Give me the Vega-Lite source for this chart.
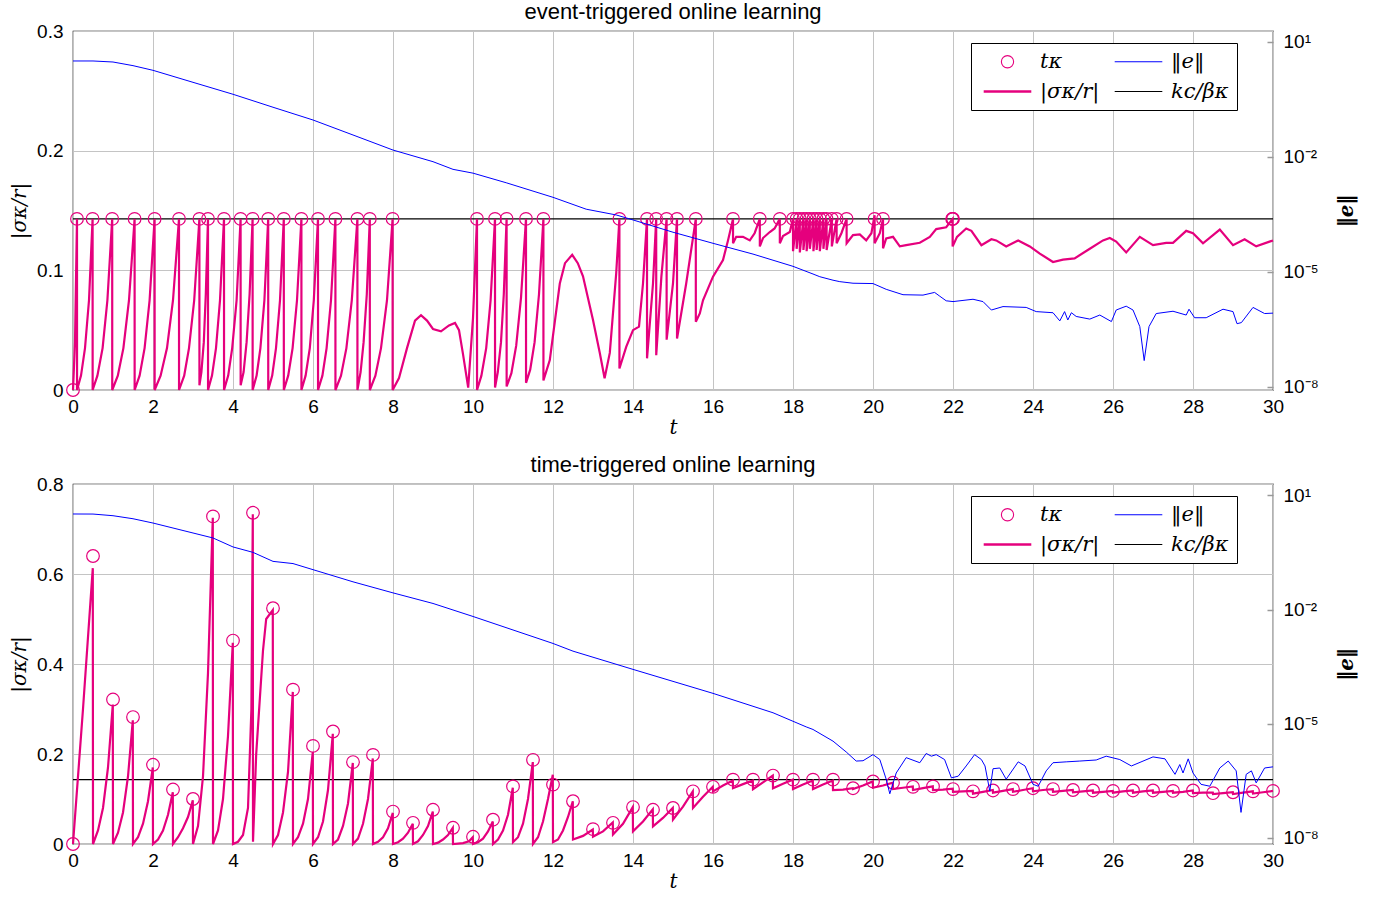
{
  "$schema": "https://vega.github.io/schema/vega-lite/v6.json",
  "padding": {"left": 8, "top": 0, "right": 5, "bottom": 2},
  "background": "white",
  "config": {
    "font": "Liberation Sans",
    "view": {"stroke": "black", "strokeWidth": 1.2},
    "axis": {"labelFont": "Liberation Sans", "labelFontSize": 19, "labelColor": "black", "domain": false, "ticks": false, "gridColor": "#c4c4c4", "gridWidth": 1, "titleFont": "DejaVu Serif", "titleFontStyle": "italic", "titleFontWeight": "normal", "titleFontSize": 20, "titleColor": "black"},
    "title": {"font": "Liberation Sans", "fontSize": 22, "fontWeight": "normal", "color": "black"},
    "legend": {"orient": "none", "legendX": 898, "legendY": 12, "columns": 2, "strokeColor": "black", "strokeWidth": 1, "fillColor": "white", "padding": 8, "labelFont": "DejaVu Serif", "labelFontStyle": "italic", "labelFontSize": 21, "labelColor": "black", "symbolSize": 784, "symbolType": "M-1.7,0H1.7", "symbolOffset": 18, "labelOffset": 22, "columnPadding": 10, "rowPadding": 8, "cornerRadius": 0}
  },
  "datasets": {
    "thr": [{"t": 0, "v": 0.143}, {"t": 30, "v": 0.143}],
    "topC": [{"t":0,"v":0},{"t":0.1,"v":0.143},{"t":0.49,"v":0.143},{"t":0.98,"v":0.143},{"t":1.54,"v":0.143},{"t":2.04,"v":0.143},{"t":2.65,"v":0.143},{"t":3.16,"v":0.143},{"t":3.375,"v":0.143},{"t":3.775,"v":0.143},{"t":4.19,"v":0.143},{"t":4.49,"v":0.143},{"t":4.88,"v":0.143},{"t":5.27,"v":0.143},{"t":5.71,"v":0.143},{"t":6.125,"v":0.143},{"t":6.56,"v":0.143},{"t":7.11,"v":0.143},{"t":7.42,"v":0.143},{"t":7.99,"v":0.143},{"t":10.1,"v":0.143},{"t":10.55,"v":0.143},{"t":10.84,"v":0.143},{"t":11.325,"v":0.143},{"t":11.76,"v":0.143},{"t":13.66,"v":0.143},{"t":14.35,"v":0.143},{"t":14.58,"v":0.143},{"t":14.84,"v":0.143},{"t":15.1,"v":0.143},{"t":15.57,"v":0.143},{"t":16.5,"v":0.143},{"t":17.17,"v":0.143},{"t":17.67,"v":0.143},{"t":18.0,"v":0.143},{"t":18.09,"v":0.143},{"t":18.17,"v":0.143},{"t":18.26,"v":0.143},{"t":18.34,"v":0.143},{"t":18.42,"v":0.143},{"t":18.51,"v":0.143},{"t":18.59,"v":0.143},{"t":18.67,"v":0.143},{"t":18.76,"v":0.143},{"t":18.84,"v":0.143},{"t":18.97,"v":0.143},{"t":19.09,"v":0.143},{"t":19.34,"v":0.143},{"t":20.04,"v":0.143},{"t":20.25,"v":0.143},{"t":21.98,"v":0.143},{"t":21.99,"v":0.143},{"t":22.0,"v":0.143}],
    "topS": [{"t":0,"v":0},{"t":0.05,"v":0.04},{"t":0.1,"v":0.143},{"t":0.101,"v":0},
      {"t":0.2,"v":0.012},{"t":0.3,"v":0.035},{"t":0.4,"v":0.075},{"t":0.49,"v":0.143},{"t":0.491,"v":0},
      {"t":0.61,"v":0.012},{"t":0.74,"v":0.035},{"t":0.86,"v":0.075},{"t":0.98,"v":0.143},{"t":0.981,"v":0},
      {"t":1.12,"v":0.012},{"t":1.26,"v":0.035},{"t":1.4,"v":0.075},{"t":1.54,"v":0.143},{"t":1.541,"v":0},
      {"t":1.665,"v":0.012},{"t":1.79,"v":0.035},{"t":1.915,"v":0.075},{"t":2.04,"v":0.143},{"t":2.041,"v":0},
      {"t":2.19,"v":0.012},{"t":2.35,"v":0.035},{"t":2.5,"v":0.075},{"t":2.65,"v":0.143},{"t":2.651,"v":0},
      {"t":2.78,"v":0.012},{"t":2.9,"v":0.035},{"t":3.03,"v":0.075},{"t":3.16,"v":0.143},{"t":3.161,"v":0.004},
      {"t":3.21,"v":0.015},{"t":3.27,"v":0.04},{"t":3.32,"v":0.08},{"t":3.375,"v":0.143},{"t":3.376,"v":0},
      {"t":3.475,"v":0.012},{"t":3.575,"v":0.035},{"t":3.675,"v":0.075},{"t":3.775,"v":0.143},{"t":3.776,"v":0},
      {"t":3.88,"v":0.012},{"t":3.98,"v":0.035},{"t":4.09,"v":0.075},{"t":4.19,"v":0.143},{"t":4.191,"v":0.004},
      {"t":4.265,"v":0.015},{"t":4.34,"v":0.04},{"t":4.415,"v":0.08},{"t":4.49,"v":0.143},{"t":4.491,"v":0},
      {"t":4.59,"v":0.012},{"t":4.685,"v":0.035},{"t":4.785,"v":0.075},{"t":4.88,"v":0.143},{"t":4.881,"v":0},
      {"t":4.98,"v":0.012},{"t":5.075,"v":0.035},{"t":5.175,"v":0.075},{"t":5.27,"v":0.143},{"t":5.271,"v":0},
      {"t":5.38,"v":0.012},{"t":5.49,"v":0.035},{"t":5.6,"v":0.075},{"t":5.71,"v":0.143},{"t":5.711,"v":0},
      {"t":5.815,"v":0.012},{"t":5.92,"v":0.035},{"t":6.02,"v":0.075},{"t":6.125,"v":0.143},{"t":6.126,"v":0},
      {"t":6.235,"v":0.012},{"t":6.34,"v":0.035},{"t":6.45,"v":0.075},{"t":6.56,"v":0.143},{"t":6.561,"v":0},
      {"t":6.7,"v":0.012},{"t":6.835,"v":0.035},{"t":6.97,"v":0.075},{"t":7.11,"v":0.143},{"t":7.111,"v":0},
      {"t":7.19,"v":0.015},{"t":7.265,"v":0.04},{"t":7.345,"v":0.08},{"t":7.42,"v":0.143},{"t":7.421,"v":0},
      {"t":7.56,"v":0.012},{"t":7.7,"v":0.035},{"t":7.85,"v":0.075},{"t":7.99,"v":0.143},{"t":7.991,"v":0},
      {"t":8.15,"v":0.01},{"t":8.35,"v":0.035},{"t":8.55,"v":0.058},{"t":8.7,"v":0.0625},{"t":8.85,"v":0.058},{"t":9.0,"v":0.051},{"t":9.2,"v":0.049},{"t":9.4,"v":0.054},{"t":9.55,"v":0.056},{"t":9.65,"v":0.05},{"t":9.75,"v":0.03},{"t":9.88,"v":0.002},{"t":10.0,"v":0.06},{"t":10.1,"v":0.143},{"t":10.101,"v":0},
      {"t":10.21,"v":0.012},{"t":10.33,"v":0.035},{"t":10.44,"v":0.075},{"t":10.55,"v":0.143},{"t":10.551,"v":0.002},
      {"t":10.62,"v":0.015},{"t":10.7,"v":0.04},{"t":10.77,"v":0.08},{"t":10.84,"v":0.143},{"t":10.841,"v":0.003},
      {"t":10.96,"v":0.014},{"t":11.08,"v":0.037},{"t":11.2,"v":0.077},{"t":11.325,"v":0.143},{"t":11.326,"v":0.006},
      {"t":11.43,"v":0.017},{"t":11.54,"v":0.04},{"t":11.65,"v":0.08},{"t":11.76,"v":0.143},{"t":11.761,"v":0.008},
      {"t":11.92,"v":0.025},{"t":12.17,"v":0.089},{"t":12.3,"v":0.106},{"t":12.48,"v":0.113},{"t":12.62,"v":0.106},{"t":12.75,"v":0.095},{"t":13.0,"v":0.0585},{"t":13.17,"v":0.031},{"t":13.29,"v":0.0098},{"t":13.42,"v":0.031},{"t":13.58,"v":0.0975},{"t":13.66,"v":0.143},{"t":13.661,"v":0.018},
      {"t":13.83,"v":0.036},{"t":14.0,"v":0.05},{"t":14.15,"v":0.053},{"t":14.25,"v":0.089},{"t":14.35,"v":0.143},{"t":14.351,"v":0.0265},
      {"t":14.5,"v":0.089},{"t":14.58,"v":0.143},{"t":14.581,"v":0.029},
      {"t":14.71,"v":0.095},{"t":14.84,"v":0.143},{"t":14.841,"v":0.042},
      {"t":15.0,"v":0.089},{"t":15.1,"v":0.143},{"t":15.101,"v":0.043},
      {"t":15.33,"v":0.089},{"t":15.57,"v":0.143},{"t":15.571,"v":0.057},
      {"t":15.67,"v":0.064},{"t":15.75,"v":0.075},{"t":16.0,"v":0.0947},{"t":16.25,"v":0.1086},{"t":16.375,"v":0.125},{"t":16.5,"v":0.143},{"t":16.501,"v":0.1226},
      {"t":16.58,"v":0.128},{"t":16.75,"v":0.128},{"t":16.92,"v":0.125},{"t":17.04,"v":0.131},{"t":17.17,"v":0.143},{"t":17.171,"v":0.12},
      {"t":17.25,"v":0.127},{"t":17.42,"v":0.132},{"t":17.54,"v":0.135},{"t":17.67,"v":0.143},{"t":17.671,"v":0.1226},
      {"t":17.75,"v":0.1287},{"t":17.92,"v":0.132},{"t":18.0,"v":0.143},{"t":18.001,"v":0.116},
      {"t":18.09,"v":0.143},{"t":18.091,"v":0.118},{"t":18.17,"v":0.143},{"t":18.171,"v":0.115},{"t":18.26,"v":0.143},{"t":18.261,"v":0.117},{"t":18.34,"v":0.143},{"t":18.341,"v":0.116},{"t":18.42,"v":0.143},{"t":18.421,"v":0.118},{"t":18.51,"v":0.143},{"t":18.511,"v":0.116},{"t":18.59,"v":0.143},{"t":18.591,"v":0.117},{"t":18.67,"v":0.143},{"t":18.671,"v":0.116},{"t":18.76,"v":0.143},{"t":18.761,"v":0.118},{"t":18.84,"v":0.143},{"t":18.841,"v":0.117},{"t":18.97,"v":0.143},{"t":18.971,"v":0.12},{"t":19.09,"v":0.143},{"t":19.091,"v":0.1226},
      {"t":19.21,"v":0.131},{"t":19.34,"v":0.143},{"t":19.341,"v":0.1226},{"t":19.5,"v":0.1295},{"t":19.67,"v":0.13},{"t":19.83,"v":0.125},{"t":19.96,"v":0.131},{"t":20.04,"v":0.146},{"t":20.041,"v":0.1226},{"t":20.17,"v":0.131},{"t":20.25,"v":0.143},{"t":20.251,"v":0.1184},{"t":20.33,"v":0.1267},{"t":20.5,"v":0.128},{"t":20.67,"v":0.12},{"t":20.83,"v":0.121},{"t":21.17,"v":0.123},{"t":21.42,"v":0.128},{"t":21.58,"v":0.1345},{"t":21.83,"v":0.136},{"t":21.99,"v":0.143},{"t":21.991,"v":0.12},{"t":22.1,"v":0.128},{"t":22.33,"v":0.135},{"t":22.46,"v":0.133},{"t":22.71,"v":0.121},{"t":22.96,"v":0.126},{"t":23.08,"v":0.125},{"t":23.33,"v":0.12},{"t":23.63,"v":0.125},{"t":23.92,"v":0.12},{"t":24.17,"v":0.114},{"t":24.5,"v":0.107},{"t":24.75,"v":0.109},{"t":25.04,"v":0.11},{"t":25.42,"v":0.118},{"t":25.75,"v":0.125},{"t":25.92,"v":0.127},{"t":26.08,"v":0.124},{"t":26.33,"v":0.115},{"t":26.67,"v":0.128},{"t":27.0,"v":0.121},{"t":27.33,"v":0.123},{"t":27.5,"v":0.123},{"t":27.83,"v":0.133},{"t":28.0,"v":0.131},{"t":28.25,"v":0.1226},{"t":28.67,"v":0.134},{"t":29.0,"v":0.121},{"t":29.29,"v":0.126},{"t":29.58,"v":0.12},{"t":30,"v":0.125}],
    "topE": [{"t":0,"e":3.14},{"t":0.5,"e":3.14},{"t":1,"e":2.95},{"t":1.5,"e":2.37},{"t":2,"e":1.79},{"t":3,"e":0.871},{"t":4,"e":0.425},{"t":5,"e":0.195},{"t":6,"e":0.0906},{"t":7,"e":0.0368},{"t":8,"e":0.0149},{"t":9,"e":0.00741},{"t":9.5,"e":0.00468},{"t":10,"e":0.00372},{"t":10.83,"e":0.00209},{"t":12,"e":8.71e-4},{"t":12.83,"e":4.27e-4},{"t":13.58,"e":3.02e-4},{"t":14,"e":2.24e-4},{"t":15,"e":1.07e-4},{"t":16,"e":5.5e-5},{"t":17,"e":2.88e-5},{"t":18,"e":1.38e-5},{"t":18.5,"e":8.7e-6},{"t":18.67,"e":7.4e-6},{"t":19,"e":6.0e-6},{"t":19.17,"e":5.5e-6},{"t":19.5,"e":5.0e-6},{"t":20,"e":4.9e-6},{"t":20.33,"e":3.47e-6},{"t":20.75,"e":2.51e-6},{"t":21.25,"e":2.45e-6},{"t":21.54,"e":2.88e-6},{"t":21.67,"e":2.29e-6},{"t":21.83,"e":1.74e-6},{"t":22,"e":1.66e-6},{"t":22.5,"e":1.91e-6},{"t":22.75,"e":1.66e-6},{"t":22.96,"e":1.0e-6},{"t":23.25,"e":1.23e-6},{"t":23.83,"e":1.17e-6},{"t":24.08,"e":9.1e-7},{"t":24.5,"e":8.5e-7},{"t":24.67,"e":5.2e-7},{"t":24.79,"e":9.1e-7},{"t":24.87,"e":5.5e-7},{"t":24.96,"e":8.5e-7},{"t":25.08,"e":6.8e-7},{"t":25.42,"e":5.8e-7},{"t":25.67,"e":7.4e-7},{"t":25.96,"e":5.0e-7},{"t":26.08,"e":1.0e-6},{"t":26.33,"e":1.26e-6},{"t":26.5,"e":1.0e-6},{"t":26.67,"e":3.7e-7},{"t":26.78,"e":4.8e-8},{"t":26.9,"e":3.7e-7},{"t":27.08,"e":8.1e-7},{"t":27.5,"e":9.3e-7},{"t":27.83,"e":7.4e-7},{"t":27.9,"e":1.05e-6},{"t":28.04,"e":6.3e-7},{"t":28.33,"e":6.3e-7},{"t":28.75,"e":1.05e-6},{"t":29.0,"e":9.1e-7},{"t":29.1,"e":4.4e-7},{"t":29.21,"e":4.7e-7},{"t":29.5,"e":1.17e-6},{"t":29.79,"e":8.1e-7},{"t":30,"e":8.3e-7}],
    "botC": [{"t":0,"v":0},{"t":0.5,"v":0.64},{"t":1,"v":0.321},{"t":1.5,"v":0.282},{"t":2,"v":0.176},{"t":2.5,"v":0.121},{"t":3,"v":0.1},{"t":3.5,"v":0.728},{"t":4,"v":0.452},{"t":4.5,"v":0.736},{"t":5,"v":0.524},{"t":5.5,"v":0.343},{"t":6,"v":0.218},{"t":6.5,"v":0.25},{"t":7,"v":0.182},{"t":7.5,"v":0.198},{"t":8,"v":0.072},{"t":8.5,"v":0.047},{"t":9,"v":0.076},{"t":9.5,"v":0.036},{"t":10,"v":0.016},{"t":10.5,"v":0.054},{"t":11,"v":0.128},{"t":11.5,"v":0.187},{"t":12,"v":0.132},{"t":12.5,"v":0.095},{"t":13,"v":0.033},{"t":13.5,"v":0.047},{"t":14,"v":0.082},{"t":14.5,"v":0.076},{"t":15,"v":0.08},{"t":15.5,"v":0.117},{"t":16,"v":0.127},{"t":16.5,"v":0.143},{"t":17,"v":0.143},{"t":17.5,"v":0.152},{"t":18,"v":0.143},{"t":18.5,"v":0.143},{"t":19,"v":0.143},{"t":19.5,"v":0.124},{"t":20,"v":0.139},{"t":20.5,"v":0.136},{"t":21,"v":0.127},{"t":21.5,"v":0.128},{"t":22,"v":0.122},{"t":22.5,"v":0.117},{"t":23,"v":0.119},{"t":23.5,"v":0.122},{"t":24,"v":0.124},{"t":24.5,"v":0.122},{"t":25,"v":0.12},{"t":25.5,"v":0.119},{"t":26,"v":0.118},{"t":26.5,"v":0.119},{"t":27,"v":0.119},{"t":27.5,"v":0.118},{"t":28,"v":0.119},{"t":28.5,"v":0.113},{"t":29,"v":0.115},{"t":29.5,"v":0.117},{"t":30,"v":0.118}],
    "botS": [{"t":0,"v":0},{"t":0.25,"v":0.3},{"t":0.495,"v":0.613},{"t":0.5,"v":0},
      {"t":0.625,"v":0.03},{"t":0.75,"v":0.08},{"t":0.875,"v":0.17},{"t":0.995,"v":0.31},{"t":1.0,"v":0},
      {"t":1.125,"v":0.025},{"t":1.25,"v":0.07},{"t":1.375,"v":0.15},{"t":1.495,"v":0.275},{"t":1.5,"v":0},
      {"t":1.625,"v":0.015},{"t":1.75,"v":0.045},{"t":1.875,"v":0.095},{"t":1.995,"v":0.17},{"t":2.0,"v":0},
      {"t":2.125,"v":0.01},{"t":2.25,"v":0.03},{"t":2.375,"v":0.065},{"t":2.495,"v":0.115},{"t":2.5,"v":0},
      {"t":2.625,"v":0.015},{"t":2.75,"v":0.035},{"t":2.875,"v":0.06},{"t":2.995,"v":0.097},{"t":3.0,"v":0},
      {"t":3.125,"v":0.04},{"t":3.25,"v":0.15},{"t":3.375,"v":0.38},{"t":3.495,"v":0.725},{"t":3.5,"v":0},
      {"t":3.625,"v":0.03},{"t":3.75,"v":0.1},{"t":3.875,"v":0.24},{"t":3.995,"v":0.447},{"t":4.0,"v":0},
      {"t":4.125,"v":0.005},{"t":4.25,"v":0.02},{"t":4.375,"v":0.08},{"t":4.46,"v":0.3},{"t":4.495,"v":0.733},{"t":4.5,"v":0.005},
      {"t":4.58,"v":0.2},{"t":4.75,"v":0.43},{"t":4.83,"v":0.5},{"t":4.995,"v":0.52},{"t":5.0,"v":0},
      {"t":5.125,"v":0.02},{"t":5.25,"v":0.07},{"t":5.375,"v":0.16},{"t":5.495,"v":0.338},{"t":5.5,"v":0},
      {"t":5.625,"v":0.015},{"t":5.75,"v":0.045},{"t":5.875,"v":0.1},{"t":5.995,"v":0.205},{"t":6.0,"v":0},
      {"t":6.125,"v":0.015},{"t":6.25,"v":0.05},{"t":6.375,"v":0.12},{"t":6.495,"v":0.245},{"t":6.5,"v":0},
      {"t":6.625,"v":0.01},{"t":6.75,"v":0.04},{"t":6.875,"v":0.09},{"t":6.995,"v":0.18},{"t":7.0,"v":0},
      {"t":7.125,"v":0.012},{"t":7.25,"v":0.045},{"t":7.375,"v":0.1},{"t":7.495,"v":0.19},{"t":7.5,"v":0},
      {"t":7.625,"v":0.005},{"t":7.75,"v":0.015},{"t":7.875,"v":0.035},{"t":7.995,"v":0.069},{"t":8.0,"v":0},
      {"t":8.125,"v":0.004},{"t":8.25,"v":0.012},{"t":8.375,"v":0.025},{"t":8.495,"v":0.045},{"t":8.5,"v":0},
      {"t":8.625,"v":0.006},{"t":8.75,"v":0.02},{"t":8.875,"v":0.04},{"t":8.995,"v":0.072},{"t":9.0,"v":0},
      {"t":9.125,"v":0.003},{"t":9.25,"v":0.01},{"t":9.375,"v":0.02},{"t":9.495,"v":0.036},{"t":9.5,"v":0},
      {"t":9.75,"v":0.002},{"t":9.9,"v":0.006},{"t":9.995,"v":0.015},{"t":10.0,"v":0},
      {"t":10.125,"v":0.004},{"t":10.25,"v":0.012},{"t":10.375,"v":0.028},{"t":10.495,"v":0.05},{"t":10.5,"v":0},
      {"t":10.625,"v":0.01},{"t":10.75,"v":0.03},{"t":10.875,"v":0.065},{"t":10.995,"v":0.125},{"t":11.0,"v":0.004},
      {"t":11.125,"v":0.015},{"t":11.25,"v":0.045},{"t":11.375,"v":0.1},{"t":11.495,"v":0.182},{"t":11.5,"v":0},
      {"t":11.625,"v":0.015},{"t":11.75,"v":0.05},{"t":11.875,"v":0.1},{"t":11.995,"v":0.154},{"t":12.0,"v":0.004},
      {"t":12.125,"v":0.01},{"t":12.25,"v":0.03},{"t":12.375,"v":0.06},{"t":12.495,"v":0.095},{"t":12.5,"v":0.01},
      {"t":12.75,"v":0.018},{"t":12.995,"v":0.032},{"t":13.0,"v":0.016},
      {"t":13.25,"v":0.028},{"t":13.495,"v":0.048},{"t":13.5,"v":0.021},
      {"t":13.75,"v":0.045},{"t":13.995,"v":0.082},{"t":14.0,"v":0.028},
      {"t":14.25,"v":0.05},{"t":14.495,"v":0.077},{"t":14.5,"v":0.039},
      {"t":14.75,"v":0.058},{"t":14.995,"v":0.08},{"t":15.0,"v":0.054},
      {"t":15.25,"v":0.083},{"t":15.495,"v":0.117},{"t":15.5,"v":0.08},
      {"t":15.75,"v":0.105},{"t":15.995,"v":0.127},{"t":16.0,"v":0.117},
      {"t":16.25,"v":0.13},{"t":16.495,"v":0.141},{"t":16.5,"v":0.124},
      {"t":16.75,"v":0.133},{"t":16.995,"v":0.141},{"t":17.0,"v":0.122},
      {"t":17.25,"v":0.137},{"t":17.495,"v":0.152},{"t":17.5,"v":0.124},
      {"t":17.75,"v":0.134},{"t":17.995,"v":0.143},{"t":18.0,"v":0.122},
      {"t":18.25,"v":0.132},{"t":18.495,"v":0.141},{"t":18.5,"v":0.122},
      {"t":18.75,"v":0.132},{"t":18.995,"v":0.141},{"t":19.0,"v":0.12},
      {"t":19.25,"v":0.121},{"t":19.495,"v":0.124},{"t":19.5,"v":0.122},
      {"t":19.75,"v":0.13},{"t":19.995,"v":0.139},{"t":20.0,"v":0.125},
      {"t":20.25,"v":0.13},{"t":20.495,"v":0.136},{"t":20.5,"v":0.122},
      {"t":20.75,"v":0.125},{"t":20.995,"v":0.128},{"t":21.0,"v":0.12},
      {"t":21.25,"v":0.124},{"t":21.495,"v":0.128},{"t":21.5,"v":0.12},
      {"t":21.75,"v":0.121},{"t":21.995,"v":0.123},{"t":22.0,"v":0.116},
      {"t":22.25,"v":0.117},{"t":22.495,"v":0.118},{"t":22.5,"v":0.112},
      {"t":22.75,"v":0.116},{"t":22.995,"v":0.12},{"t":23.0,"v":0.114},
      {"t":23.25,"v":0.118},{"t":23.495,"v":0.122},{"t":23.5,"v":0.116},
      {"t":23.75,"v":0.12},{"t":23.995,"v":0.124},{"t":24.0,"v":0.117},
      {"t":24.25,"v":0.12},{"t":24.495,"v":0.122},{"t":24.5,"v":0.116},
      {"t":24.75,"v":0.118},{"t":24.995,"v":0.12},{"t":25.0,"v":0.115},
      {"t":25.25,"v":0.117},{"t":25.495,"v":0.119},{"t":25.5,"v":0.114},
      {"t":25.75,"v":0.116},{"t":25.995,"v":0.118},{"t":26.0,"v":0.114},
      {"t":26.25,"v":0.117},{"t":26.495,"v":0.119},{"t":26.5,"v":0.114},
      {"t":26.75,"v":0.117},{"t":26.995,"v":0.119},{"t":27.0,"v":0.114},
      {"t":27.25,"v":0.116},{"t":27.495,"v":0.118},{"t":27.5,"v":0.114},
      {"t":27.75,"v":0.116},{"t":27.995,"v":0.119},{"t":28.0,"v":0.113},
      {"t":28.25,"v":0.114},{"t":28.495,"v":0.114},{"t":28.5,"v":0.111},
      {"t":28.75,"v":0.113},{"t":28.995,"v":0.115},{"t":29.0,"v":0.111},
      {"t":29.25,"v":0.114},{"t":29.495,"v":0.117},{"t":29.5,"v":0.112},
      {"t":29.75,"v":0.115},{"t":30.0,"v":0.118}],
    "botE": [{"t":0,"e":3.25},{"t":0.5,"e":3.24},{"t":1,"e":2.93},{"t":1.5,"e":2.44},{"t":2,"e":1.88},{"t":3,"e":1.03},{"t":3.5,"e":0.762},{"t":4,"e":0.443},{"t":4.5,"e":0.319},{"t":5,"e":0.185},{"t":5.5,"e":0.162},{"t":6,"e":0.112},{"t":6.5,"e":0.0776},{"t":7,"e":0.0537},{"t":8,"e":0.0275},{"t":9,"e":0.0145},{"t":10,"e":0.0066},{"t":12,"e":0.00129},{"t":12.5,"e":8.1e-4},{"t":14,"e":2.69e-4},{"t":16,"e":6.3e-5},{"t":17.5,"e":1.95e-5},{"t":18.33,"e":8.3e-6},{"t":18.5,"e":7.1e-6},{"t":19,"e":3.5e-6},{"t":19.33,"e":1.82e-6},{"t":19.58,"e":1.05e-6},{"t":19.75,"e":1.07e-6},{"t":20,"e":1.55e-6},{"t":20.17,"e":1.15e-6},{"t":20.33,"e":3.5e-7},{"t":20.42,"e":1.45e-7},{"t":20.58,"e":5.1e-7},{"t":20.83,"e":1.29e-6},{"t":21.17,"e":9.5e-7},{"t":21.33,"e":1.66e-6},{"t":21.46,"e":1.41e-6},{"t":21.58,"e":1.55e-6},{"t":21.79,"e":1.15e-6},{"t":21.96,"e":3.8e-7},{"t":22.13,"e":4.2e-7},{"t":22.33,"e":7.8e-7},{"t":22.54,"e":1.55e-6},{"t":22.71,"e":1.15e-6},{"t":22.8,"e":7.8e-7},{"t":22.92,"e":1.7e-7},{"t":23.0,"e":6.6e-7},{"t":23.17,"e":6.9e-7},{"t":23.33,"e":3.5e-7},{"t":23.63,"e":1.0e-6},{"t":23.8,"e":7.8e-7},{"t":24.0,"e":2.57e-7},{"t":24.13,"e":2.29e-7},{"t":24.33,"e":5.8e-7},{"t":24.5,"e":9.5e-7},{"t":24.83,"e":1.0e-6},{"t":25.17,"e":1.05e-6},{"t":25.58,"e":1.12e-6},{"t":25.83,"e":1.41e-6},{"t":26.17,"e":1.15e-6},{"t":26.46,"e":7.8e-7},{"t":27.0,"e":1.35e-6},{"t":27.3,"e":1.2e-6},{"t":27.55,"e":4.7e-7},{"t":27.67,"e":8.5e-7},{"t":27.75,"e":5.1e-7},{"t":27.88,"e":1.2e-6},{"t":28.0,"e":5.1e-7},{"t":28.2,"e":2.57e-7},{"t":28.42,"e":2.29e-7},{"t":28.67,"e":6.9e-7},{"t":28.88,"e":1.05e-6},{"t":29.08,"e":5.8e-7},{"t":29.2,"e":4.7e-8},{"t":29.33,"e":4.7e-7},{"t":29.46,"e":5.8e-7},{"t":29.58,"e":2.8e-7},{"t":29.79,"e":6.9e-7},{"t":30,"e":7.4e-7}]
  },
  "vconcat": [
    {
      "width": 1200,
      "height": 359,
      "title": {"text": "event-triggered online learning", "anchor": "middle", "frame": "group", "offset": -2},
      "encoding": {
        "x": {"field": "t", "type": "quantitative", "scale": {"domain": [0, 30], "nice": false}, "axis": {"values": [0,2,4,6,8,10,12,14,16,18,20,22,24,26,28,30], "title": "t", "grid": true, "labelFlush": false, "labelPadding": 7, "titlePadding": 1}}
      },
      "layer": [
        {
          "layer": [
            {"data": {"name": "thr"}, "mark": {"type": "line", "strokeWidth": 1.1}, "encoding": {"y": {"field": "v", "type": "quantitative", "scale": {"domain": [0, 0.3], "nice": false, "zero": false}, "axis": {"orient": "left", "values": [0, 0.1, 0.2, 0.3], "labelExpr": "datum.value == 0 ? '0' : format(datum.value, '.1f')", "title": "|σκ/r|", "grid": true, "titlePadding": 7, "labelPadding": 10}}, "color": {"datum": "kc/βκ", "scale": {"domain": ["tκ", "|σκ/r|", "‖e‖", "kc/βκ"], "range": ["#e5007d", "#e5007d", "#0000ff", "#000000"]}, "legend": {"title": null, "encode": {"symbols": {"update": {"shape": {"signal": "datum.value === 'tκ' ? 'circle' : 'M-1.7,0H1.7'"}, "size": {"signal": "datum.value === 'tκ' ? 150 : 784"}, "strokeWidth": {"signal": "datum.value === '|σκ/r|' ? 2.4 : 1.1"}, "stroke": {"signal": "datum.value === '‖e‖' ? '#0000ff' : datum.value === 'kc/βκ' ? '#000000' : '#e5007d'"}, "fill": {"value": "transparent"}, "opacity": {"value": 1}}}}}}}},
            {"data": {"name": "topS"}, "mark": {"type": "line", "strokeWidth": 2.2}, "encoding": {"y": {"field": "v", "type": "quantitative"}, "color": {"datum": "|σκ/r|"}}},
            {"data": {"name": "topC"}, "mark": {"type": "point", "shape": "circle", "size": 160, "filled": false, "strokeWidth": 1.2, "opacity": 1}, "encoding": {"y": {"field": "v", "type": "quantitative"}, "color": {"datum": "tκ"}}}
          ]
        },
        {"data": {"name": "topE"}, "mark": {"type": "line", "strokeWidth": 1}, "encoding": {"y": {"field": "e", "type": "quantitative", "scale": {"type": "log", "domain": [8.2e-9, 19.0], "nice": false}, "axis": {"orient": "right", "values": [1e-8, 1e-5, 0.01, 10], "labelExpr": "datum.value >= 1 ? '10¹' : datum.value > 0.001 ? '10⁻²' : datum.value > 1e-6 ? '10⁻⁵' : '10⁻⁸'", "grid": false, "ticks": true, "tickSize": -6, "tickColor": "#999999", "tickWidth": 1.5, "labelPadding": 16, "title": "‖e‖", "titleFontStyle": "italic", "titleFontWeight": "bold", "titleAngle": 270, "titlePadding": 38}}, "color": {"datum": "‖e‖"}}}
      ],
      "resolve": {"scale": {"y": "independent"}}
    },
    {
      "width": 1200,
      "height": 360,
      "title": {"text": "time-triggered online learning", "anchor": "middle", "frame": "group", "offset": -2},
      "encoding": {
        "x": {"field": "t", "type": "quantitative", "scale": {"domain": [0, 30], "nice": false}, "axis": {"values": [0,2,4,6,8,10,12,14,16,18,20,22,24,26,28,30], "title": "t", "grid": true, "labelFlush": false, "labelPadding": 7, "titlePadding": 1}}
      },
      "layer": [
        {
          "layer": [
            {"data": {"name": "thr"}, "mark": {"type": "line", "strokeWidth": 1.1}, "encoding": {"y": {"field": "v", "type": "quantitative", "scale": {"domain": [0, 0.8], "nice": false, "zero": false}, "axis": {"orient": "left", "values": [0, 0.2, 0.4, 0.6, 0.8], "labelExpr": "datum.value == 0 ? '0' : format(datum.value, '.1f')", "title": "|σκ/r|", "grid": true, "titlePadding": 7, "labelPadding": 10}}, "color": {"datum": "kc/βκ", "scale": {"domain": ["tκ", "|σκ/r|", "‖e‖", "kc/βκ"], "range": ["#e5007d", "#e5007d", "#0000ff", "#000000"]}, "legend": {"title": null, "encode": {"symbols": {"update": {"shape": {"signal": "datum.value === 'tκ' ? 'circle' : 'M-1.7,0H1.7'"}, "size": {"signal": "datum.value === 'tκ' ? 150 : 784"}, "strokeWidth": {"signal": "datum.value === '|σκ/r|' ? 2.4 : 1.1"}, "stroke": {"signal": "datum.value === '‖e‖' ? '#0000ff' : datum.value === 'kc/βκ' ? '#000000' : '#e5007d'"}, "fill": {"value": "transparent"}, "opacity": {"value": 1}}}}}}}},
            {"data": {"name": "botS"}, "mark": {"type": "line", "strokeWidth": 2.2}, "encoding": {"y": {"field": "v", "type": "quantitative"}, "color": {"datum": "|σκ/r|"}}},
            {"data": {"name": "botC"}, "mark": {"type": "point", "shape": "circle", "size": 160, "filled": false, "strokeWidth": 1.2, "opacity": 1}, "encoding": {"y": {"field": "v", "type": "quantitative"}, "color": {"datum": "tκ"}}}
          ]
        },
        {"data": {"name": "botE"}, "mark": {"type": "line", "strokeWidth": 1}, "encoding": {"y": {"field": "e", "type": "quantitative", "scale": {"type": "log", "domain": [6.95e-9, 19.95], "nice": false}, "axis": {"orient": "right", "values": [1e-8, 1e-5, 0.01, 10], "labelExpr": "datum.value >= 1 ? '10¹' : datum.value > 0.001 ? '10⁻²' : datum.value > 1e-6 ? '10⁻⁵' : '10⁻⁸'", "grid": false, "ticks": true, "tickSize": -6, "tickColor": "#999999", "tickWidth": 1.5, "labelPadding": 16, "title": "‖e‖", "titleFontStyle": "italic", "titleFontWeight": "bold", "titleAngle": 270, "titlePadding": 38}}, "color": {"datum": "‖e‖"}}}
      ],
      "resolve": {"scale": {"y": "independent"}}
    }
  ],
  "spacing": 15,
  "resolve": {"scale": {"color": "independent"}, "legend": {"color": "independent"}}
}
